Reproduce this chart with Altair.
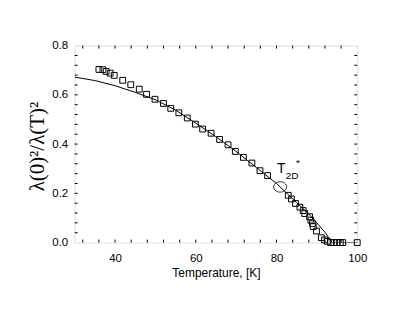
import altair as alt
import pandas as pd

# measured squares
sq_T = [36.0, 37.0, 37.8, 38.8, 39.8, 41.9, 43.9, 46.0, 47.8, 49.9, 52.0, 53.8, 55.8,
        57.9, 59.9, 61.7, 63.8, 65.9, 68.0, 69.8, 71.8, 73.9, 75.9, 77.8, 82.9, 83.7,
        84.7, 85.8, 86.6, 87.0, 88.2, 88.5, 88.9, 89.1, 89.9, 91.1, 91.9, 92.6, 93.4,
        94.2, 95.0, 95.8, 96.4, 100.0]
sq_v = [0.703, 0.702, 0.695, 0.688, 0.679, 0.659, 0.641, 0.623, 0.602, 0.582, 0.565,
        0.545, 0.527, 0.506, 0.481, 0.461, 0.444, 0.419, 0.397, 0.370, 0.346, 0.323,
        0.292, 0.272, 0.192, 0.177, 0.159, 0.144, 0.130, 0.118, 0.105, 0.091, 0.077,
        0.065, 0.047, 0.020, 0.011, 0.005, 0.0, 0.0, 0.0, 0.0, 0.0, 0.0]

# fitted curve
line_T = [30, 35, 40, 45, 50, 55, 60, 65, 70, 75, 80, 85, 88, 90, 92, 93.8, 100]
line_v = [0.672, 0.658, 0.637, 0.610, 0.580, 0.538, 0.485, 0.430, 0.370, 0.305,
          0.240, 0.162, 0.116, 0.080, 0.042, 0.0, 0.0]

# T2D* marker
ell_T = [80.9]
ell_v = [0.226]

x_ticks = [32, 36, 40, 44, 48, 52, 56, 60, 64, 68, 72, 76, 80, 84, 88, 92, 96]
y_ticks = [0.04, 0.08, 0.12, 0.16, 0.2, 0.24, 0.28, 0.32, 0.36, 0.4, 0.44, 0.48,
           0.52, 0.56, 0.6, 0.64, 0.68, 0.72, 0.76]

W, H = 284, 198
XS = alt.Scale(domain=[30, 100], nice=False, zero=False)
YS = alt.Scale(domain=[0, 0.8], nice=False)

xax = alt.Axis(values=[40, 60, 80, 100], ticks=False, domain=False, grid=False,
               labelFlush=False,
               labelFont="Liberation Sans", labelFontSize=11.5, labelColor="black",
               labelPadding=10, title="Temperature, [K]", titleFont="Liberation Sans",
               titleFontSize=12, titleFontWeight="normal", titleColor="black",
               titlePadding=4)
yax = alt.Axis(values=[0, 0.2, 0.4, 0.6, 0.8], format=".1f", ticks=False, domain=False,
               grid=False, labelFlush=False, labelFont="Liberation Sans", labelFontSize=11.5,
               labelColor="black", labelPadding=7, title="λ(0)²/λ(T)²",
               titleFont="Liberation Serif", titleFontSize=21, titleFontWeight="normal",
               titleColor="black", titleAngle=-90, titleX=-37, titleY=101,
               titleAlign="center", titleBaseline="middle")

sq_df = pd.DataFrame({"T": sq_T, "v": sq_v})
line_df = pd.DataFrame({"T": line_T, "v": line_v})
ell_df = pd.DataFrame({"T": ell_T, "v": ell_v})
xt_df = pd.DataFrame({"t": x_ticks})
yt_df = pd.DataFrame({"t": y_ticks})

line = alt.Chart(line_df).mark_line(color="black", strokeWidth=1, clip=True).encode(
    x=alt.X("T:Q", scale=XS, axis=xax), y=alt.Y("v:Q", scale=YS, axis=yax))
pts = alt.Chart(sq_df).mark_point(shape="square", filled=False, color="black",
                                  strokeWidth=1, size=34, opacity=1).encode(
    x=alt.X("T:Q", scale=XS), y=alt.Y("v:Q", scale=YS))
ell = alt.Chart(ell_df).mark_point(
    shape="M-1,0A1,0.8,0,1,0,1,0A1,0.8,0,1,0,-1,0Z", filled=False, color="black",
    strokeWidth=0.8, size=170, opacity=1).encode(
    x=alt.X("T:Q", scale=XS), y=alt.Y("v:Q", scale=YS))

lab1 = alt.Chart(ell_df).mark_text(text="T", font="Liberation Sans", fontSize=14,
                                   dx=1, dy=-18, color="black").encode(
    x=alt.X("T:Q", scale=XS), y=alt.Y("v:Q", scale=YS))
lab2 = alt.Chart(ell_df).mark_text(text="2D", font="Liberation Sans", fontSize=10,
                                   dx=12, dy=-11, color="black").encode(
    x=alt.X("T:Q", scale=XS), y=alt.Y("v:Q", scale=YS))
lab3 = alt.Chart(ell_df).mark_text(text="*", font="Liberation Sans", fontSize=10,
                                   dx=18, dy=-24, color="black").encode(
    x=alt.X("T:Q", scale=XS), y=alt.Y("v:Q", scale=YS))

tk_b = alt.Chart(xt_df).mark_rule(color="black", strokeWidth=1).encode(
    x=alt.X("t:Q", scale=XS), y=alt.value(H), y2=alt.value(H - 3))
tk_t = alt.Chart(xt_df).mark_rule(color="black", strokeWidth=1).encode(
    x=alt.X("t:Q", scale=XS), y=alt.value(0), y2=alt.value(3))
tk_l = alt.Chart(yt_df).mark_rule(color="black", strokeWidth=1).encode(
    y=alt.Y("t:Q", scale=YS), x=alt.value(0), x2=alt.value(3))
tk_r = alt.Chart(yt_df).mark_rule(color="black", strokeWidth=1).encode(
    y=alt.Y("t:Q", scale=YS), x=alt.value(W), x2=alt.value(W - 3))

chart = alt.layer(tk_b, tk_t, tk_l, tk_r, line, pts, ell, lab1, lab2, lab3).properties(
    width=W, height=H, autosize=alt.AutoSizeParams(type="none"),
    padding={"left": 67, "top": 37, "right": 50, "bottom": 70}
).configure_view(stroke="black", strokeWidth=1).configure(background="white")

chart.save("out.html", embed_options={"renderer": "svg", "actions": False})
